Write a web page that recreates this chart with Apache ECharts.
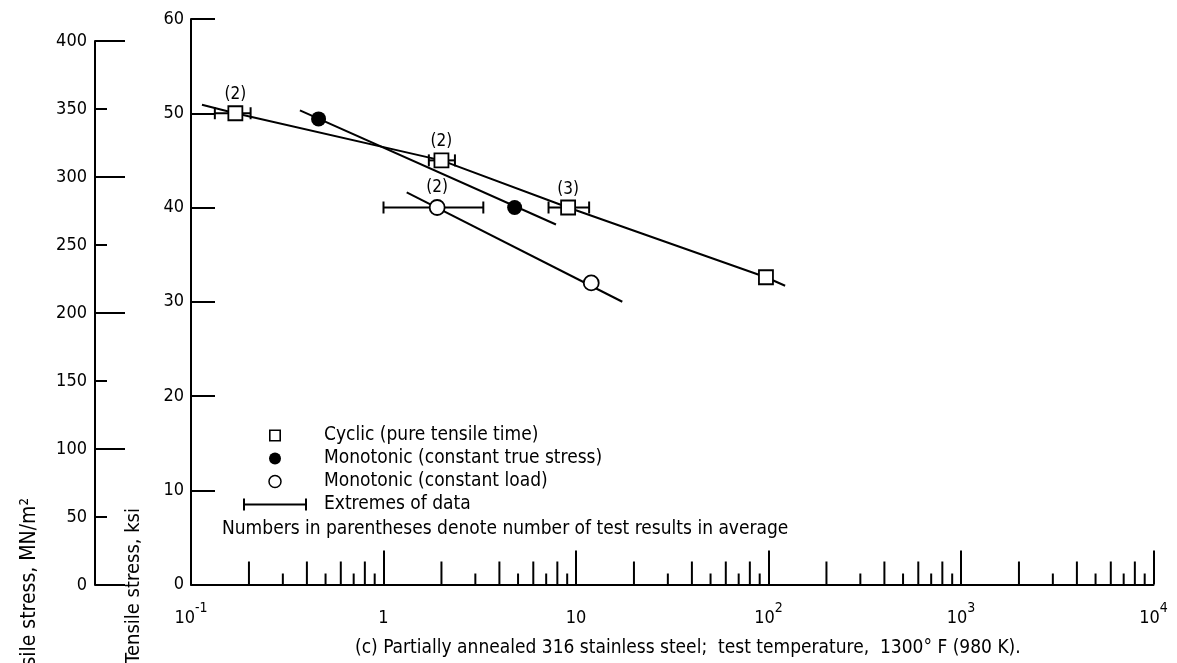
<!DOCTYPE html>
<html>
<head>
<meta charset="utf-8">
<script src="https://cdn.jsdelivr.net/npm/echarts@6/dist/echarts.min.js"></script>
<style>
  html, body { margin: 0; padding: 0; background: #fff; }
  #chart { width: 1177px; height: 663px; }
</style>
</head>
<body>
<div id="chart"></div>
<script>
// Rupture time (hr) versus tensile stress (ksi), partially annealed 316 stainless steel at 1300 F.

// Cyclic tests (pure tensile time): averages, number of tests, and data extremes
const cyclicTime = [0.17, 2.0, 9.1, 97];
const cyclicStress = [50, 45, 40, 32.6];
const cyclicCount = [2, 2, 3, null];
const cyclicLow = [0.133, 1.72, 7.2, null];
const cyclicHigh = [0.204, 2.35, 11.7, null];

// Monotonic tests at constant true stress
const trueStressTime = [0.46, 4.8];
const trueStressStress = [49.4, 40];

// Monotonic tests at constant load
const constLoadTime = [1.9, 12];
const constLoadStress = [40, 32];
const constLoadCount = [2, null];
const constLoadLow = [1.0, null];
const constLoadHigh = [3.3, null];

// Faired curves through each set of results
const cyclicCurveTime = [0.114, 0.17, 2.0, 9.1, 97, 122];
const cyclicCurveStress = [50.9, 50, 45, 40, 32.6, 31.7];
const trueStressCurveTime = [0.368, 7.87];
const trueStressCurveStress = [50.3, 38.2];
const constLoadCurveTime = [1.32, 17.4];
const constLoadCurveStress = [41.6, 30.0];

// Axis ticks
const timeTickLabels = ['10^-1', '1', '10', '10^2', '10^3', '10^4'];
const decadeStarts = [0.1, 1, 10, 100, 1000];
const decadeMultipliers = [2, 3, 4, 5, 6, 7, 8, 9];

const legendNames = [
  'Cyclic (pure tensile time)',
  'Monotonic (constant true stress)',
  'Monotonic (constant load)',
  'Extremes of data'
];
const noteText = 'Numbers in parentheses denote number of test results in average';
const captionText = '(c) Partially annealed 316 stainless steel;  test temperature,  1300\u00B0 F (980 K).';
const ksiAxisName = 'Tensile stress, ksi';
const mnAxisName = 'Tensile stress, MN/m\u00B2';

const FONT = "'DejaVu Sans Condensed', 'Liberation Sans Narrow', 'DejaVu Sans', sans-serif";
const INK = '#000';

const zip = (xs, ys) => xs.map((x, i) => [x, ys[i]]);

const minorTickData = [];
decadeStarts.forEach(d => decadeMultipliers.forEach(m => minorTickData.push([d * m, m])));

function barData(lows, highs, ys) {
  const out = [];
  lows.forEach((lo, i) => { if (lo != null) out.push([lo, highs[i], ys[i]]); });
  return out;
}
const extremesData = barData(cyclicLow, cyclicHigh, cyclicStress)
  .concat(barData(constLoadLow, constLoadHigh, constLoadStress));

function countLabel(counts) {
  return p => (counts[p.dataIndex] ? '(' + counts[p.dataIndex] + ')' : '');
}

function timeLabel(v) {
  const idx = Math.round(Math.log10(v)) + 1;
  const s = timeTickLabels[idx];
  if (s === undefined) return '';
  const parts = s.split('^');
  return parts.length > 1 ? '{b|' + parts[0] + '}{s|' + parts[1] + '}' : '{b|' + s + '}';
}

const chart = echarts.init(document.getElementById('chart'), null, { renderer: 'canvas' });

const axisLineStyle = { color: INK, width: 2 };
const labelStyle = { color: INK, fontFamily: FONT, fontSize: 18 };
const textStyle19 = { fontFamily: FONT, fontSize: 19, fontWeight: 'normal', color: INK };

chart.setOption({
  backgroundColor: '#fff',
  animation: false,
  textStyle: { fontFamily: FONT, color: INK },
  grid: [
    { left: 95, top: 41, bottom: 78, width: 30 },
    { left: 191, top: 19, right: 23.5, bottom: 78.5 }
  ],
  title: [
    { text: noteText, left: 222, top: 520, padding: 0, textStyle: textStyle19 },
    { text: captionText, left: 355, top: 639, padding: 0, textStyle: textStyle19 }
  ],
  legend: {
    orient: 'vertical', left: 238, top: 421,
    itemWidth: 64, itemHeight: 12, itemGap: 4,
    symbolKeepAspect: true,
    selectedMode: false,
    textStyle: { fontFamily: FONT, fontSize: 19, color: INK, padding: [0, 0, 0, 12] },
    data: [
      { name: legendNames[0], icon: 'path://M0,0h12v12h-12zM1.6,1.6v8.8h8.8v-8.8z',
        itemStyle: { color: INK, borderWidth: 0 } },
      { name: legendNames[1], itemStyle: { color: INK, borderColor: INK, borderWidth: 0 } },
      { name: legendNames[2], itemStyle: { color: '#fff', borderColor: INK, borderWidth: 1.5 } },
      { name: legendNames[3], icon: 'path://M0,0h2v12h-2zM2,5h60v2h-60zM62,0h2v12h-2z',
        itemStyle: { color: INK, borderWidth: 0 } }
    ]
  },
  graphic: [
    { type: 'text', x: 134, y: 508, rotation: Math.PI / 2,
      style: { text: ksiAxisName, fill: INK, font: '20px ' + FONT, align: 'right', verticalAlign: 'middle' } },
    { type: 'text', x: 30, y: 498, rotation: Math.PI / 2,
      style: { text: mnAxisName, fill: INK, font: '21px ' + FONT, align: 'right', verticalAlign: 'middle' } }
  ],
  xAxis: [
    { type: 'value', gridIndex: 0, show: false, min: 0, max: 1 },
    {
      type: 'log', gridIndex: 1, logBase: 10, min: 0.1, max: 10000,
      axisLine: { show: true, onZero: false, lineStyle: axisLineStyle },
      axisTick: { show: true, inside: true, length: 34, lineStyle: { color: INK, width: 2 } },
      minorTick: { show: false },
      splitLine: { show: false },
      axisLabel: {
        margin: 17, formatter: timeLabel, showMinLabel: true, showMaxLabel: true,
        rich: {
          b: { fontFamily: FONT, fontSize: 18, color: INK, lineHeight: 26, verticalAlign: 'bottom' },
          s: { fontFamily: FONT, fontSize: 14, color: INK, lineHeight: 15, verticalAlign: 'top' }
        }
      }
    }
  ],
  yAxis: [
    {
      type: 'value', gridIndex: 0, min: 0, max: 400, interval: 50,
      axisLine: { show: true, lineStyle: axisLineStyle },
      axisTick: { show: true, inside: true, length: 12, lineStyle: { color: INK, width: 2 } },
      axisLabel: Object.assign({ margin: 8 }, labelStyle),
      splitLine: { show: false }
    },
    {
      type: 'value', gridIndex: 0, min: 0, max: 400, interval: 100,
      axisLine: { show: false },
      axisTick: { show: true, inside: true, length: 24, lineStyle: { color: INK, width: 2 } },
      axisLabel: { show: false },
      splitLine: { show: false }
    },
    {
      type: 'value', gridIndex: 1, min: 0, max: 60, interval: 10,
      axisLine: { show: true, onZero: false, lineStyle: axisLineStyle },
      axisTick: { show: true, inside: true, length: 24, lineStyle: { color: INK, width: 2 } },
      axisLabel: Object.assign({ margin: 7 }, labelStyle),
      splitLine: { show: false }
    }
  ],
  series: [
    // intermediate log-cycle ticks along the time axis
    {
      type: 'custom', xAxisIndex: 1, yAxisIndex: 2, silent: true, z: 1,
      data: minorTickData,
      renderItem(params, api) {
        const p = api.coord([api.value(0), 0]);
        const len = api.value(1) % 2 === 0 ? 23 : 11;
        return { type: 'line', shape: { x1: p[0], y1: p[1], x2: p[0], y2: p[1] - len },
                 style: { stroke: INK, lineWidth: 2 } };
      }
    },
    // faired curves
    { type: 'line', xAxisIndex: 1, yAxisIndex: 2, data: zip(cyclicCurveTime, cyclicCurveStress),
      showSymbol: false, silent: true, z: 2, lineStyle: { color: INK, width: 2 } },
    { type: 'line', xAxisIndex: 1, yAxisIndex: 2, data: zip(trueStressCurveTime, trueStressCurveStress),
      showSymbol: false, silent: true, z: 2, lineStyle: { color: INK, width: 2 } },
    { type: 'line', xAxisIndex: 1, yAxisIndex: 2, data: zip(constLoadCurveTime, constLoadCurveStress),
      showSymbol: false, silent: true, z: 2, lineStyle: { color: INK, width: 2 } },
    // extremes of data
    {
      type: 'custom', name: legendNames[3], xAxisIndex: 1, yAxisIndex: 2, silent: true, z: 3,
      data: extremesData,
      itemStyle: { color: INK },
      renderItem(params, api) {
        const a = api.coord([api.value(0), api.value(2)]);
        const b = api.coord([api.value(1), api.value(2)]);
        const h = 6;
        const st = { stroke: INK, lineWidth: 2 };
        return { type: 'group', children: [
          { type: 'line', shape: { x1: a[0], y1: a[1], x2: b[0], y2: b[1] }, style: st },
          { type: 'line', shape: { x1: a[0], y1: a[1] - h, x2: a[0], y2: a[1] + h }, style: st },
          { type: 'line', shape: { x1: b[0], y1: b[1] - h, x2: b[0], y2: b[1] + h }, style: st }
        ] };
      }
    },
    // averaged results
    {
      type: 'scatter', name: legendNames[0], xAxisIndex: 1, yAxisIndex: 2, z: 5,
      data: zip(cyclicTime, cyclicStress), symbol: 'rect', symbolSize: 14,
      itemStyle: { color: '#fff', borderColor: INK, borderWidth: 1.8, opacity: 1 },
      label: { show: true, position: 'top', distance: 2, formatter: countLabel(cyclicCount),
               fontFamily: FONT, fontSize: 17, color: INK }
    },
    {
      type: 'scatter', name: legendNames[1], xAxisIndex: 1, yAxisIndex: 2, z: 5,
      data: zip(trueStressTime, trueStressStress), symbol: 'circle', symbolSize: 15,
      itemStyle: { color: INK, opacity: 1 }
    },
    {
      type: 'scatter', name: legendNames[2], xAxisIndex: 1, yAxisIndex: 2, z: 5,
      data: zip(constLoadTime, constLoadStress), symbol: 'circle', symbolSize: 15,
      itemStyle: { color: '#fff', borderColor: INK, borderWidth: 1.8, opacity: 1 },
      label: { show: true, position: 'top', distance: 3, formatter: countLabel(constLoadCount),
               fontFamily: FONT, fontSize: 17, color: INK }
    }
  ]
});
</script>
</body>
</html>
